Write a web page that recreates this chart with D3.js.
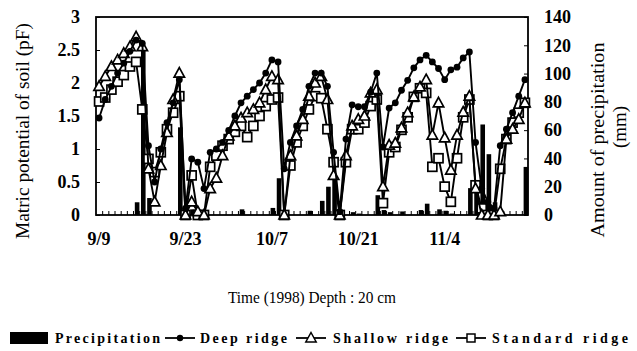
<!DOCTYPE html>
<html><head><meta charset="utf-8">
<script src="https://cdn.jsdelivr.net/npm/d3@7"></script>
<style>
body{margin:0;background:#fff;}
svg{display:block;}
text{font-family:"Liberation Serif","Times New Roman",serif;fill:#000;}
</style></head>
<body>
<svg id="chart" width="637" height="351"></svg>
<script>
// ---- data ----
const days = d3.timeDay.range(new Date(1998, 8, 9), new Date(1998, 10, 18)); // 9/9 .. 11/17
const tickIndex = [0, 14, 28, 42, 56];
const tickLabels = ["9/9", "9/23", "10/7", "10/21", "11/4"];
const leftTicks = [0, 0.5, 1, 1.5, 2, 2.5, 3];
const rightTicks = [0, 20, 40, 60, 80, 100, 120, 140];

const deepRidge = [1.47,1.75,1.95,2.15,2.3,2.48,2.65,2.6,1.05,0.5,
  1.0,1.4,1.7,2.05,0.1,0.85,0.8,0.4,0.95,1.0,
  1.1,1.28,1.5,1.7,1.8,1.9,2.0,2.15,2.35,2.32,
  0.7,1.1,1.35,1.6,1.95,2.15,2.15,1.95,0.95,0.05,
  1.15,1.67,1.64,1.64,1.86,2.15,1.03,1.62,1.7,1.89,
  2.04,2.23,2.35,2.42,2.32,2.22,2.05,2.2,2.24,2.38,
  2.47,1.1,0.4,0.2,0.1,1.05,1.3,1.55,1.8,2.05];
const shallowRidge = [1.95,2.1,2.25,2.35,2.45,2.55,2.7,2.55,0.7,0.2,
  0.75,1.25,1.75,2.15,0,0.2,0.05,0,0.4,0.56,
  0.9,1.2,1.35,1.47,1.55,1.6,1.7,1.9,2.1,2.05,
  0,0.9,1.2,1.45,1.8,2.0,2.1,1.75,0.6,0,
  0.9,1.35,1.45,1.5,1.85,1.9,0.43,1.06,1.09,1.32,
  1.55,1.79,1.94,2.05,1.21,1.7,1.17,0.68,1.21,1.56,
  1.8,0.4,0,0,0,0.05,1.15,1.3,1.45,1.7];
const standardRidge = [1.72,1.78,1.9,2.02,2.12,2.25,2.32,1.6,0.85,0.65,
  0.95,1.3,1.55,1.8,0,0.6,0,0,0.73,0.9,
  1.05,1.15,1.26,1.35,1.18,1.35,1.5,1.65,1.75,1.78,
  0,0.75,1.1,1.35,1.6,1.8,1.77,1.3,0.8,0,
  0.8,1.3,1.3,1.4,1.65,1.75,0.18,0.95,1.03,1.29,
  1.48,1.79,1.92,1.85,0.73,0.86,0.43,0.2,0.86,1.48,
  1.75,0.45,0.1,0,0,0.7,1.15,1.4,1.55,1.7];
const precipitation = [0,0,0,0,0,0,9,118,12,0,
  0,0,0,62,6,4,3,2,0,0,
  0,0,0,4,0,0,0,0,5,26,
  1,0,0,0,3,0,10,20,28,3,
  0,2,1,0,0,14,3.5,2,0,2.5,
  0,0,3.5,8,0,4,3,1,0,0,
  19,23,64,43,9,3,0,0,0,34];

// ---- layout ----
const L = 96, R = 528, T = 17, B = 215;
const svg = d3.select("#chart");

const idx = d3.range(days.length);
const x = d3.scaleBand().domain(idx).range([L, R]).padding(0);
const xLin = d3.scaleLinear().domain([0, days.length]).range([L, R]);
const yL = d3.scaleLinear().domain([0, 3]).range([B, T]);
const yR = d3.scaleLinear().domain([0, 140]).range([B, T]);
const cx = i => x(i) + x.bandwidth() / 2;

// bars
svg.append("g").selectAll("rect").data(precipitation).join("rect")
  .attr("x", (d, i) => cx(i) - 2.3 + 1)
  .attr("width", 4.6)
  .attr("y", d => yR(d))
  .attr("height", d => B - yR(d))
  .attr("fill", "#000");

// frame
svg.append("rect").attr("x", L).attr("y", T).attr("width", R - L).attr("height", B - T)
  .attr("fill", "none").attr("stroke", "#000").attr("stroke-width", 1.8);

// minor x ticks (inward)
const xMinor = svg.append("g").attr("transform", `translate(0,${B})`)
  .call(d3.axisBottom(xLin).tickValues(d3.range(1, days.length)).tickSize(-4).tickFormat(""));
xMinor.select(".domain").remove();
xMinor.selectAll("line").attr("stroke", "#000").attr("stroke-width", 1);

// x labels
const xAx = svg.append("g").attr("transform", `translate(0,${B})`)
  .call(d3.axisBottom(x).tickValues(tickIndex).tickSize(0).tickPadding(17)
    .tickFormat((d, k) => tickLabels[k]));
xAx.select(".domain").remove();
xAx.selectAll("text").attr("font-size", 18).attr("font-weight", "bold")
  .attr("font-family", "Liberation Serif");

// left axis
const yAx = svg.append("g").attr("transform", `translate(${L},0)`)
  .call(d3.axisLeft(yL).tickValues(leftTicks).tickSize(-4).tickPadding(16).tickFormat(d => String(d)));
yAx.select(".domain").remove();
yAx.selectAll("line").attr("stroke", "#000");
yAx.selectAll("text").attr("font-size", 18).attr("font-weight", "bold")
  .attr("font-family", "Liberation Serif");

// right axis
const rAx = svg.append("g").attr("transform", `translate(${R},0)`)
  .call(d3.axisRight(yR).tickValues(rightTicks).tickSize(-4).tickPadding(16).tickFormat(d => String(d)));
rAx.select(".domain").remove();
rAx.selectAll("line").attr("stroke", "#000");
rAx.selectAll("text").attr("font-size", 18).attr("font-weight", "bold")
  .attr("font-family", "Liberation Serif");

// lines & markers
const line = d3.line().x((d, i) => cx(i)).y(d => yL(d));
const triPath = "M0,-5.5L5.2,4L-5.2,4Z";
function series(data, kind) {
  svg.append("path").datum(data).attr("d", line)
    .attr("fill", "none").attr("stroke", "#000").attr("stroke-width", 1.9);
  const g = svg.append("g");
  data.forEach((d, i) => {
    const px = cx(i), py = yL(d);
    if (kind === "circle") {
      g.append("circle").attr("cx", px).attr("cy", py).attr("r", 3.4).attr("fill", "#000");
    } else if (kind === "tri") {
      g.append("path").attr("d", triPath).attr("transform", `translate(${px},${py})`)
        .attr("fill", "#fff").attr("stroke", "#000").attr("stroke-width", 1.7);
    } else {
      g.append("rect").attr("x", px - 4.5).attr("y", py - 4.5).attr("width", 9).attr("height", 9)
        .attr("fill", "#fff").attr("stroke", "#000").attr("stroke-width", 1.7);
    }
  });
}
series(standardRidge, "square");
series(shallowRidge, "tri");
series(deepRidge, "circle");

// axis titles
svg.append("text").attr("transform", "translate(29,131) rotate(-90)")
  .attr("text-anchor", "middle").attr("font-size", 18)
  .attr("textLength", 216).attr("lengthAdjust", "spacingAndGlyphs")
  .text("Matric potential of soil (pF)");
svg.append("text").attr("transform", "translate(604,140) rotate(-90)")
  .attr("text-anchor", "middle").attr("font-size", 19)
  .attr("textLength", 195).attr("lengthAdjust", "spacingAndGlyphs")
  .text("Amount of precipitation");
svg.append("text").attr("transform", "translate(626,127) rotate(-90)")
  .attr("text-anchor", "middle").attr("font-size", 19)
  .text("(mm)");
svg.append("text").attr("x", 312).attr("y", 303).attr("text-anchor", "middle")
  .attr("font-size", 16).attr("textLength", 168).attr("lengthAdjust", "spacingAndGlyphs")
  .text("Time (1998) Depth : 20 cm");

// legend
const ly = 338;
const lg = svg.append("g");
lg.append("rect").attr("x", 10).attr("y", ly - 6).attr("width", 38).attr("height", 12).attr("fill", "#000");
function legText(xp, w, t) {
  lg.append("text").attr("x", xp).attr("y", ly + 5).attr("font-size", 14).attr("font-weight", "bold")
    .attr("textLength", w).attr("lengthAdjust", "spacing").text(t);
}
function legLine(x0, x1) {
  lg.append("line").attr("x1", x0).attr("x2", x1).attr("y1", ly).attr("y2", ly)
    .attr("stroke", "#000").attr("stroke-width", 1.8);
}
legText(55, 105, "Precipitation");
legLine(165, 195);
lg.append("circle").attr("cx", 180).attr("cy", ly).attr("r", 3.2).attr("fill", "#000");
legText(200, 87, "Deep ridge");
legLine(296, 326);
lg.append("path").attr("d", triPath).attr("transform", `translate(311,${ly})`)
  .attr("fill", "#fff").attr("stroke", "#000").attr("stroke-width", 1.5);
legText(333, 115, "Shallow ridge");
legLine(456, 486);
lg.append("rect").attr("x", 467).attr("y", ly - 4).attr("width", 8).attr("height", 8)
  .attr("fill", "#fff").attr("stroke", "#000").attr("stroke-width", 1.5);
legText(492, 136, "Standard ridge");
</script>
</body></html>
